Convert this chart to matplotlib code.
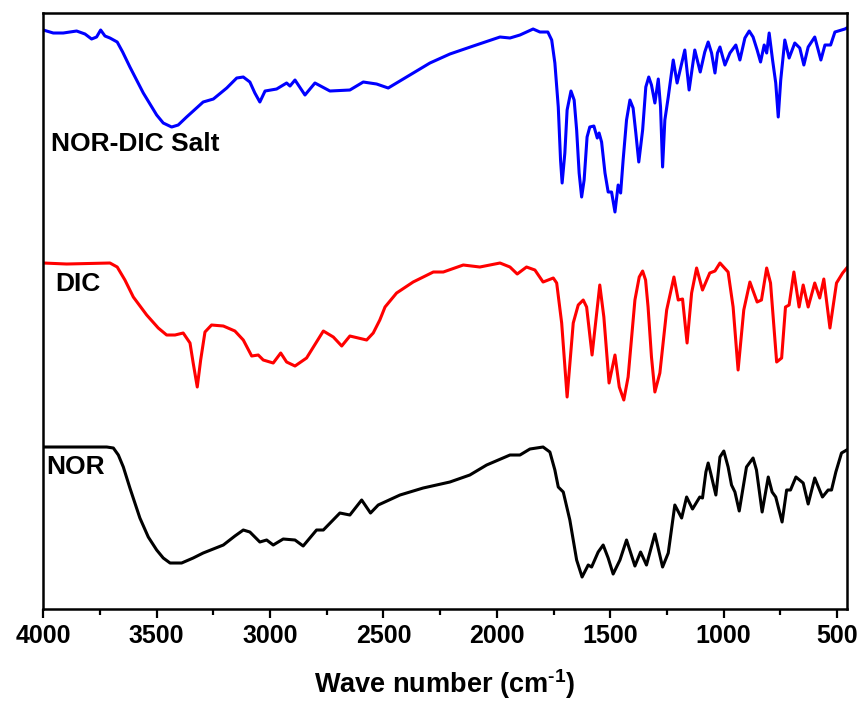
import matplotlib.pyplot as plt
from matplotlib.ticker import MultipleLocator

# FTIR spectra. Wave numbers in cm-1,
# transmittance in arbitrary units (curves already stacked).
salt_wn = [4000, 3956, 3912, 3853, 3816, 3787, 3765, 3747, 3728, 3706, 3674,
           3650, 3618, 3559, 3500, 3471, 3434, 3405, 3368, 3295, 3250, 3191,
           3147, 3118, 3089, 3067, 3045, 3022, 2971, 2927, 2912, 2890, 2846,
           2802, 2736, 2648, 2589, 2530, 2479, 2295, 2207, 2104, 1986, 1942,
           1898, 1840, 1810, 1775, 1758, 1744, 1729, 1719, 1712, 1700, 1690,
           1673, 1659, 1648, 1637, 1626, 1615, 1602, 1590, 1572, 1557, 1549,
           1538, 1523, 1509, 1494, 1479, 1465, 1454, 1443, 1428, 1413, 1399,
           1387, 1374, 1357, 1343, 1330, 1318, 1303, 1288, 1278, 1269, 1259,
           1244, 1222, 1205, 1171, 1152, 1127, 1103, 1083, 1068, 1053, 1038,
           1027, 1016, 994, 972, 946, 928, 906, 887, 870, 852, 837, 821, 810,
           799, 784, 770, 759, 748, 730, 711, 686, 664, 646, 627, 598, 571,
           553, 528, 509, 465, 457]
salt_t = [575, 572, 572, 574, 571, 566, 568, 575, 569, 567, 563,
          553, 538, 512, 490, 482, 478, 480, 488, 503, 506, 517,
          527, 528, 523, 512, 503, 514, 516, 522, 519, 525, 510,
          522, 514, 515, 523, 521, 517, 542, 551, 559, 568, 567,
          570, 576, 573, 573, 565, 542, 498, 445, 422, 452, 495,
          514, 505, 475, 432, 408, 425, 468, 478, 479, 467, 472,
          463, 432, 413, 413, 393, 420, 412, 445, 485, 505, 497,
          472, 443, 475, 518, 528, 520, 502, 526, 498, 438, 485,
          508, 545, 522, 555, 515, 555, 533, 553, 563, 552, 532,
          552, 558, 540, 552, 560, 545, 567, 574, 568, 555, 543, 560, 552,
          572, 545, 522, 488, 525, 565, 547, 562, 557, 540, 558, 568, 545,
          560, 560, 573, 576, 577]

dic_wn = [4000, 3897, 3706, 3674, 3640, 3603, 3544, 3493, 3456, 3419, 3383,
          3353, 3339, 3321, 3306, 3287, 3258, 3206, 3155, 3118, 3081, 3052,
          3030, 2986, 2953, 2927, 2890, 2839, 2765, 2721, 2684, 2648, 2574,
          2545, 2516, 2493, 2442, 2369, 2280, 2236, 2148, 2075, 1986, 1942,
          1910, 1869, 1832, 1796, 1751, 1736, 1714, 1690, 1663, 1641, 1619,
          1604, 1580, 1546, 1528, 1505, 1479, 1460, 1440, 1421, 1391, 1372,
          1357, 1344, 1333, 1318, 1303, 1281, 1251, 1219, 1200, 1181, 1161,
          1141, 1119, 1093, 1061, 1038, 1016, 980, 958, 936, 911, 884, 852,
          833, 810, 793, 766, 744, 727, 711, 690, 667, 649, 627, 598, 576,
          558, 531, 502, 475, 457]
dic_t = [342, 341, 342, 338, 325, 308, 290, 277, 270, 270, 272,
         262, 242, 218, 245, 273, 280, 279, 274, 265, 249, 250,
         245, 242, 252, 243, 239, 247, 274, 268, 259, 269, 265,
         272, 285, 298, 312, 323, 333, 333, 340, 338, 342, 338,
         331, 338, 335, 323, 327, 322, 282, 208, 282, 300, 305,
         298, 250, 320, 288, 222, 250, 218, 205, 228, 305, 328,
         334, 325, 298, 248, 213, 232, 295, 328, 305, 306, 262,
         312, 337, 315, 332, 334, 342, 333, 298, 235, 295, 323, 303,
         305, 337, 322, 243, 247, 298, 300, 333, 298, 320, 298, 322, 307,
         326, 277, 322, 332, 337]

nor_wn = [4000, 3720, 3691, 3669, 3647, 3618, 3574, 3537, 3500, 3471, 3441,
          3390, 3339, 3295, 3206, 3155, 3118, 3089, 3045, 3015, 2986, 2942,
          2890, 2854, 2795, 2765, 2692, 2648, 2596, 2557, 2523, 2427, 2325,
          2207, 2119, 2045, 1942, 1898, 1854, 1796, 1766, 1744, 1729, 1707,
          1678, 1648, 1624, 1597, 1582, 1553, 1531, 1509, 1487, 1457, 1428,
          1391, 1366, 1340, 1303, 1269, 1244, 1215, 1185, 1163, 1137, 1105,
          1093, 1078, 1068, 1057, 1034, 1016, 999, 980, 965, 950, 931, 899,
          870, 855, 830, 803, 786, 770, 742, 722, 705, 681, 649, 627, 598,
          564, 539, 524, 505, 480, 457]
nor_t = [158, 158, 157, 150, 138, 117, 87, 68, 55, 47, 42,
         42, 47, 52, 60, 69, 75, 73, 63, 65, 60, 66,
         65, 59, 75, 75, 92, 90, 105, 92, 100, 110, 117,
         123, 130, 140, 150, 150, 156, 158, 153, 135, 118, 113,
         85, 45, 28, 40, 38, 53, 60, 47, 31, 45, 65,
         39, 53, 40, 71, 38, 52, 100, 87, 108, 96, 108,
         107, 133, 142, 132, 110, 148, 154, 138, 120, 113, 94, 138,
         147, 135, 93, 128, 113, 108, 83, 115, 115, 128, 122, 101, 127,
         108, 115, 115, 133, 152, 155]

spectra = [
    (salt_wn, salt_t, '#0000ff', 'NOR-DIC Salt', 3967, 461),
    (dic_wn, dic_t, '#ff0000', 'DIC', 3948, 321),
    (nor_wn, nor_t, 'black', 'NOR', 3985, 138),
]

plt.rcParams['font.family'] = ['Liberation Sans', 'DejaVu Sans']
plt.rcParams['font.weight'] = 'bold'
plt.rcParams['mathtext.fontset'] = 'custom'
plt.rcParams['mathtext.rm'] = 'Liberation Sans:bold'
plt.rcParams['mathtext.default'] = 'rm'

fig = plt.figure(figsize=(8.64, 7.07), dpi=100)
ax = fig.add_axes([0.0501, 0.1386, 0.9299, 0.843])

for wn, t, color, name, lx, ly in spectra:
    ax.plot(wn, t, color=color, lw=2.2, solid_joinstyle='round')
    ax.text(lx, ly, name, fontsize=19, fontweight='bold', va='center',
            ha='left')

ax.set_xlim(4000, 457)
ax.set_ylim(-4, 592)
ax.xaxis.set_major_locator(MultipleLocator(500))
ax.xaxis.set_minor_locator(MultipleLocator(250))
ax.tick_params(axis='x', which='major', direction='out', length=6.5,
               width=1.6, labelsize=18, pad=4)
ax.tick_params(axis='x', which='minor', direction='out', length=4,
               width=1.6)
ax.set_yticks([])
for spine in ax.spines.values():
    spine.set_linewidth(1.8)
for lab in ax.get_xticklabels():
    lab.set_fontweight('bold')

ax.set_xlabel(r'Wave number (cm$^{\text{-1}}$)', fontsize=19.5,
              fontweight='bold', labelpad=14)

fig.savefig('out.png', dpi=100)
